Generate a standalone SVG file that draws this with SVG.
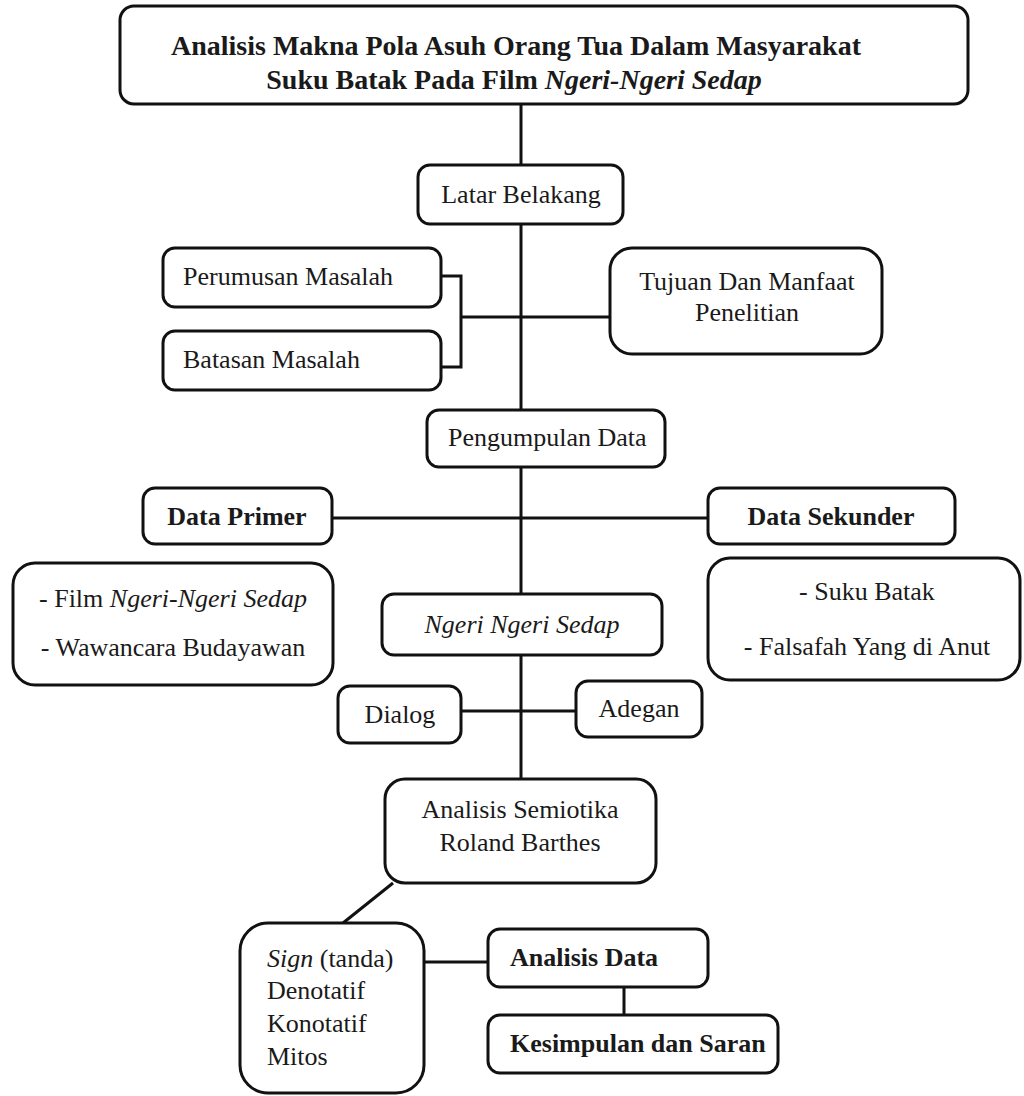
<svg xmlns="http://www.w3.org/2000/svg" width="1024" height="1096" viewBox="0 0 1024 1096">
<style>
.box{fill:#fff;stroke:#111;stroke-width:3}
.ln{fill:none;stroke:#111;stroke-width:3}
text{font-family:"Liberation Serif","Times New Roman",serif;font-size:26px;fill:#1a1a1a}
.b{font-weight:bold}
.t{font-size:28px;font-weight:bold}
.c{text-anchor:middle}
.i{font-style:italic}
</style>
<rect width="1024" height="1096" fill="#fff"/>
<g id="connectors">
<path class="ln" d="M521,104 V779"/>
<path class="ln" d="M441,276 H461 V367 H441 M461,317 H610"/>
<path class="ln" d="M332,518 H708"/>
<path class="ln" d="M461,711 H576"/>
<path class="ln" d="M393,883 L343,923"/>
<path class="ln" d="M424,962 H488"/>
<path class="ln" d="M624,987 V1015"/>
</g>
<g id="title">
<rect class="box" x="120" y="6" width="848" height="98" rx="14"/>
<text class="t c" x="516" y="55">Analisis Makna Pola Asuh Orang Tua Dalam Masyarakat</text>
<text class="t c" x="514" y="89">Suku Batak Pada Film <tspan class="i">Ngeri-Ngeri Sedap</tspan></text>
</g>
<g id="latar">
<rect class="box" x="418" y="165" width="205" height="59" rx="12"/>
<text class="c" x="521" y="203">Latar Belakang</text>
</g>
<g id="perumusan">
<rect class="box" x="163" y="248" width="278" height="59" rx="12"/>
<text x="183" y="285">Perumusan Masalah</text>
</g>
<g id="batasan">
<rect class="box" x="163" y="331" width="278" height="59" rx="12"/>
<text x="183" y="368">Batasan Masalah</text>
</g>
<g id="tujuan">
<rect class="box" x="610" y="248" width="272" height="106" rx="22"/>
<text class="c" x="747" y="290">Tujuan Dan Manfaat</text>
<text class="c" x="747" y="321">Penelitian</text>
</g>
<g id="pengumpulan">
<rect class="box" x="427" y="410" width="238" height="57" rx="12"/>
<text x="448" y="446">Pengumpulan Data</text>
</g>
<g id="data-primer">
<rect class="box" x="143" y="488" width="189" height="56" rx="12"/>
<text class="b c" x="237" y="525">Data Primer</text>
</g>
<g id="data-sekunder">
<rect class="box" x="708" y="488" width="247" height="56" rx="12"/>
<text class="b c" x="831" y="525">Data Sekunder</text>
</g>
<g id="primer-list">
<rect class="box" x="13" y="563" width="320" height="122" rx="22"/>
<text class="c" x="173" y="607">- Film <tspan class="i">Ngeri-Ngeri Sedap</tspan></text>
<text class="c" x="173" y="656">- Wawancara Budayawan</text>
</g>
<g id="sekunder-list">
<rect class="box" x="708" y="558" width="312" height="122" rx="22"/>
<text class="c" x="867" y="600">- Suku Batak</text>
<text class="c" x="867" y="655">- Falsafah Yang di Anut</text>
</g>
<g id="ngeri">
<rect class="box" x="382" y="594" width="280" height="61" rx="12"/>
<text class="c i" x="522" y="633">Ngeri Ngeri Sedap</text>
</g>
<g id="dialog">
<rect class="box" x="338" y="686" width="123" height="57" rx="12"/>
<text class="c" x="400" y="723">Dialog</text>
</g>
<g id="adegan">
<rect class="box" x="576" y="681" width="126" height="56" rx="12"/>
<text class="c" x="639" y="717">Adegan</text>
</g>
<g id="semiotika">
<rect class="box" x="385" y="779" width="271" height="104" rx="20"/>
<text class="c" x="520" y="818">Analisis Semiotika</text>
<text class="c" x="520" y="851">Roland Barthes</text>
</g>
<g id="sign">
<rect class="box" x="240" y="923" width="184" height="170" rx="28"/>
<text x="267" y="967"><tspan class="i">Sign</tspan> (tanda)</text>
<text x="267" y="999">Denotatif</text>
<text x="267" y="1032">Konotatif</text>
<text x="267" y="1065">Mitos</text>
</g>
<g id="analisis-data">
<rect class="box" x="488" y="929" width="220" height="58" rx="12"/>
<text class="b" x="510" y="966">Analisis Data</text>
</g>
<g id="kesimpulan">
<rect class="box" x="488" y="1015" width="290" height="58" rx="12"/>
<text class="b" x="510" y="1052">Kesimpulan dan Saran</text>
</g>
</svg>
